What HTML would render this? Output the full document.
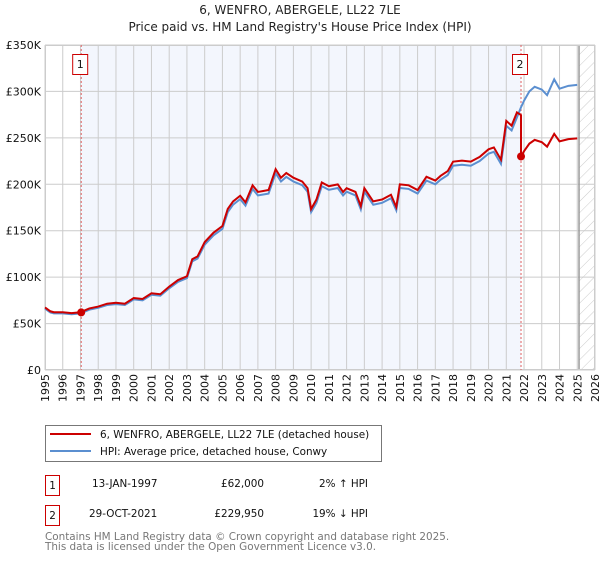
<!DOCTYPE html>
<html><head><meta charset="utf-8"><style>
body{margin:0;background:#fff;font-family:"DejaVu Sans","Liberation Sans",sans-serif;}
svg text{font-family:"DejaVu Sans","Liberation Sans",sans-serif;}
</style></head><body>
<svg id="c" width="600" height="560" xmlns="http://www.w3.org/2000/svg">
<defs><pattern id="hatch" width="8" height="8" patternUnits="userSpaceOnUse" patternTransform="rotate(45)"><line x1="0" y1="0" x2="0" y2="8" stroke="#ccc" stroke-width="1"/></pattern></defs>
<text x="300" y="14" text-anchor="middle" font-size="12" fill="#222">6, WENFRO, ABERGELE, LL22 7LE</text>
<text x="300" y="31" text-anchor="middle" font-size="12" fill="#222">Price paid vs. HM Land Registry's House Price Index (HPI)</text>
<g id="plot"></g>
<g>
<rect x="45.5" y="425.5" width="336" height="36" fill="#fff" stroke="#777"/>
<line x1="50" y1="434" x2="91" y2="434" stroke="#cc0000" stroke-width="2"/>
<text x="100" y="438" font-size="10.4" fill="#111">6, WENFRO, ABERGELE, LL22 7LE (detached house)</text>
<line x1="50" y1="451" x2="91" y2="451" stroke="#5b8fd0" stroke-width="2"/>
<text x="100" y="455" font-size="10.4" fill="#111">HPI: Average price, detached house, Conwy</text>
</g>
<g font-size="10.4" fill="#111">
<rect x="45.5" y="475.5" width="14" height="20" fill="#fff" stroke="#cc0000"/>
<text x="52.5" y="489" text-anchor="middle">1</text>
<text x="92" y="487">13-JAN-1997</text>
<text x="264" y="487" text-anchor="end">£62,000</text>
<text x="368" y="487" text-anchor="end">2% ↑ HPI</text>
<rect x="45.5" y="505.5" width="14" height="20" fill="#fff" stroke="#cc0000"/>
<text x="52.5" y="519" text-anchor="middle">2</text>
<text x="89" y="517">29-OCT-2021</text>
<text x="264" y="517" text-anchor="end">£229,950</text>
<text x="368" y="517" text-anchor="end">19% ↓ HPI</text>
</g>
<text x="45" y="540" font-size="10.4" fill="#777">Contains HM Land Registry data © Crown copyright and database right 2025.</text>
<text x="45" y="550" font-size="10.4" fill="#777">This data is licensed under the Open Government Licence v3.0.</text>
</svg>
<script>
const hpiYears=[1995,1995.3,1995.5,1996,1996.5,1997,1997.5,1998,1998.5,1999,1999.5,2000,2000.5,2001,2001.5,2002,2002.5,2003,2003.3,2003.6,2004,2004.5,2005,2005.3,2005.6,2006,2006.3,2006.7,2007,2007.3,2007.6,2008,2008.3,2008.6,2009,2009.5,2009.8,2010,2010.3,2010.6,2011,2011.5,2011.8,2012,2012.5,2012.8,2013,2013.5,2014,2014.5,2014.8,2015,2015.5,2016,2016.5,2017,2017.3,2017.7,2018,2018.5,2019,2019.5,2020,2020.3,2020.7,2021,2021.3,2021.6,2021.83,2022,2022.3,2022.6,2023,2023.3,2023.7,2024,2024.5,2025];
const hpiValues=[66,62,61,61,60,61,65,67,70,71,70,76,75,81,80,88,95,99,117,120,135,145,152,170,178,184,177,195,188,189,190,212,203,208,203,199,192,170,180,198,194,196,188,192,188,173,192,178,180,185,172,196,195,190,204,200,205,210,220,221,220,225,233,235,222,263,258,272,283,290,300,305,302,296,313,303,306,307];
const saleYears=[1997.04,2021.83];
const saleValues=[62,229.95];
const yTicks=[0,50,100,150,200,250,300,350];
const yTickLabels=["£0","£50K","£100K","£150K","£200K","£250K","£300K","£350K"];
const xTicks=[1995,1996,1997,1998,1999,2000,2001,2002,2003,2004,2005,2006,2007,2008,2009,2010,2011,2012,2013,2014,2015,2016,2017,2018,2019,2020,2021,2022,2023,2024,2025,2026];
const L=45,R=595,T=45,B=370;
const x=v=>L+(v-1995)/(2026-1995)*(R-L);
const y=v=>B-v/350*(B-T);
const g=document.getElementById('plot');
const NS='http://www.w3.org/2000/svg';
function el(t,a,p){const e=document.createElementNS(NS,t);for(const k in a)e.setAttribute(k,a[k]);(p||g).appendChild(e);return e;}
let e;
e=el('rect',{x:x(saleYears[0]),y:T,width:x(saleYears[1])-x(saleYears[0]),height:B-T,fill:'#f3f6fd'});


e=el('rect',{x:x(2025.1),y:T,width:R-x(2025.1),height:B-T,fill:'url(#hatch)'});


yTicks.forEach((v,i)=>{
 e=el('line',{x1:L,x2:R,y1:y(v),y2:y(v),stroke:'#ccc','stroke-width':1});
 
 
 e=el('text',{x:L-4,y:y(v)+4,'text-anchor':'end','font-size':11,fill:'#111'});e.textContent=yTickLabels[i];
 
 
});
xTicks.forEach(v=>{
 e=el('line',{x1:x(v),x2:x(v),y1:T,y2:B,stroke:'#ccc','stroke-width':1});
 
 
 e=el('text',{x:0,y:0,'text-anchor':'end','font-size':11,fill:'#111',transform:`translate(${x(v)+4},${B+4}) rotate(-90)`});e.textContent=v;
 
 
});
e=el('line',{x1:x(2025.1),x2:x(2025.1),y1:T,y2:B,stroke:'#999','stroke-width':1.5});


e=el('rect',{x:L+0.5,y:T+0.5,width:R-L-1,height:B-T-1,fill:'none',stroke:'#ccc'});


saleYears.forEach((s,i)=>{
 e=el('line',{x1:x(s),x2:x(s),y1:T,y2:B,stroke:'#e06060','stroke-dasharray':'2,2','stroke-width':1});
 
 
});
e=el('polyline',{points:hpiYears.map((t,i)=>x(t)+','+y(hpiValues[i])).join(' '),fill:'none',stroke:'#5b8fd0','stroke-width':2});


const s1=hpiValues[hpiYears.indexOf(2021.83)];
const pts=[];
hpiYears.forEach((t,i)=>{
 if(t<saleYears[1]) pts.push(x(t)+','+y(hpiValues[i]*1.02));
});
pts.push(x(saleYears[1])+','+y(s1*0.97));
hpiYears.forEach((t,i)=>{
 if(t>=saleYears[1]) pts.push(x(t)+','+y(hpiValues[i]*saleValues[1]/s1));
});
e=el('polyline',{points:pts.join(' '),fill:'none',stroke:'#cc0000','stroke-width':2});


saleYears.forEach((s,i)=>{
 e=el('circle',{cx:x(s),cy:y(saleValues[i]),r:4,fill:'#cc0000'});
 
 
 e=el('rect',{x:x(s)-8.5,y:54.5,width:15,height:20,fill:'#fff',stroke:'#cc0000'});
 
 
 e=el('text',{x:x(s)-1,y:68,'text-anchor':'middle','font-size':11,fill:'#111'});e.textContent=String(i+1);
 
 
});
</script>
</body></html>
